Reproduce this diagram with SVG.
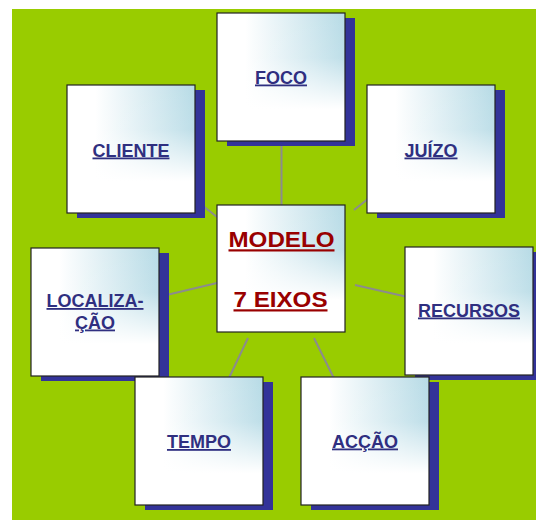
<svg xmlns="http://www.w3.org/2000/svg" width="536" height="520" viewBox="0 0 536 520">
  <style>
    .shadow { fill: #333399; }
    .box { fill: url(#gh); stroke: none; }
    .fade { fill: url(#gv); stroke: #222222; stroke-width: 1.2; }
    .lbl { font-family: "Liberation Sans", Arial, sans-serif; font-weight: bold; font-size: 18px; fill: #2f2f80; text-anchor: middle; text-decoration: underline; }
    .ctr { font-family: "Liberation Sans", Arial, sans-serif; font-weight: bold; font-size: 22px; fill: #990000; text-anchor: middle; text-decoration: underline; }
    .conn { stroke: #8c8c8c; stroke-width: 2; fill: none; }
  </style>
  <defs>
    <linearGradient id="gh" x1="0" y1="0" x2="1" y2="0">
      <stop offset="0" stop-color="#ffffff"/>
      <stop offset="0.22" stop-color="#ffffff"/>
      <stop offset="1" stop-color="#b7dbe6"/>
    </linearGradient>
    <linearGradient id="gv" x1="0" y1="0" x2="0" y2="1">
      <stop offset="0" stop-color="#ffffff" stop-opacity="0"/>
      <stop offset="0.35" stop-color="#ffffff" stop-opacity="0.1"/>
      <stop offset="0.75" stop-color="#ffffff" stop-opacity="1"/>
      <stop offset="1" stop-color="#ffffff" stop-opacity="1"/>
    </linearGradient>
  </defs>

  <rect x="0" y="0" width="536" height="520" fill="#ffffff"/>
  <rect x="12" y="9" width="524" height="511" fill="#99cc00"/>

  <g id="connectors">
    <line class="conn" x1="281.5" y1="205" x2="281.5" y2="141"/>
    <line class="conn" x1="217" y1="217" x2="131" y2="149"/>
    <line class="conn" x1="354" y1="210" x2="431" y2="149"/>
    <line class="conn" x1="217" y1="283" x2="95" y2="312"/>
    <line class="conn" x1="355" y1="285" x2="469" y2="311"/>
    <line class="conn" x1="248" y1="338" x2="199" y2="441"/>
    <line class="conn" x1="314" y1="338" x2="365" y2="441"/>
  </g>

  <g id="foco">
    <rect class="shadow" x="227" y="18" width="128" height="128"/>
    <rect class="box" x="217" y="13" width="128" height="128"/>
    <rect class="fade" x="217" y="13" width="128" height="128"/>
    <text class="lbl" x="281" y="83.5">FOCO</text>
  </g>

  <g id="cliente">
    <rect class="shadow" x="77" y="90" width="128" height="128"/>
    <rect class="box" x="67" y="85" width="128" height="128"/>
    <rect class="fade" x="67" y="85" width="128" height="128"/>
    <text class="lbl" x="131" y="156.5">CLIENTE</text>
  </g>

  <g id="juizo">
    <rect class="shadow" x="377" y="90" width="128" height="128"/>
    <rect class="box" x="367" y="85" width="128" height="128"/>
    <rect class="fade" x="367" y="85" width="128" height="128"/>
    <text class="lbl" x="431" y="156.5">JUÍZO</text>
  </g>

  <g id="localizacao">
    <rect class="shadow" x="41" y="253" width="128" height="128"/>
    <rect class="box" x="31" y="248" width="128" height="128"/>
    <rect class="fade" x="31" y="248" width="128" height="128"/>
    <text class="lbl" x="95" y="307">LOCALIZA-</text>
    <text class="lbl" x="95" y="328.5">ÇÃO</text>
  </g>

  <g id="recursos">
    <rect class="shadow" x="415" y="252" width="128" height="128"/>
    <rect class="box" x="405" y="247" width="128" height="128"/>
    <rect class="fade" x="405" y="247" width="128" height="128"/>
    <text class="lbl" x="469" y="316.5">RECURSOS</text>
  </g>

  <g id="tempo">
    <rect class="shadow" x="145" y="382" width="128" height="128"/>
    <rect class="box" x="135" y="377" width="128" height="128"/>
    <rect class="fade" x="135" y="377" width="128" height="128"/>
    <text class="lbl" x="199" y="448">TEMPO</text>
  </g>

  <g id="accao">
    <rect class="shadow" x="311" y="382" width="128" height="128"/>
    <rect class="box" x="301" y="377" width="128" height="128"/>
    <rect class="fade" x="301" y="377" width="128" height="128"/>
    <text class="lbl" x="365" y="447.5">ACÇÃO</text>
  </g>

  <g id="modelo">
    <rect class="box" x="217" y="205" width="128" height="127"/>
    <rect class="fade" x="217" y="205" width="128" height="127"/>
    <text class="ctr" x="281.5" y="247.3" textLength="106" lengthAdjust="spacingAndGlyphs">MODELO</text>
    <text class="ctr" x="280.5" y="307.3" textLength="94" lengthAdjust="spacingAndGlyphs">7 EIXOS</text>
  </g>
</svg>
